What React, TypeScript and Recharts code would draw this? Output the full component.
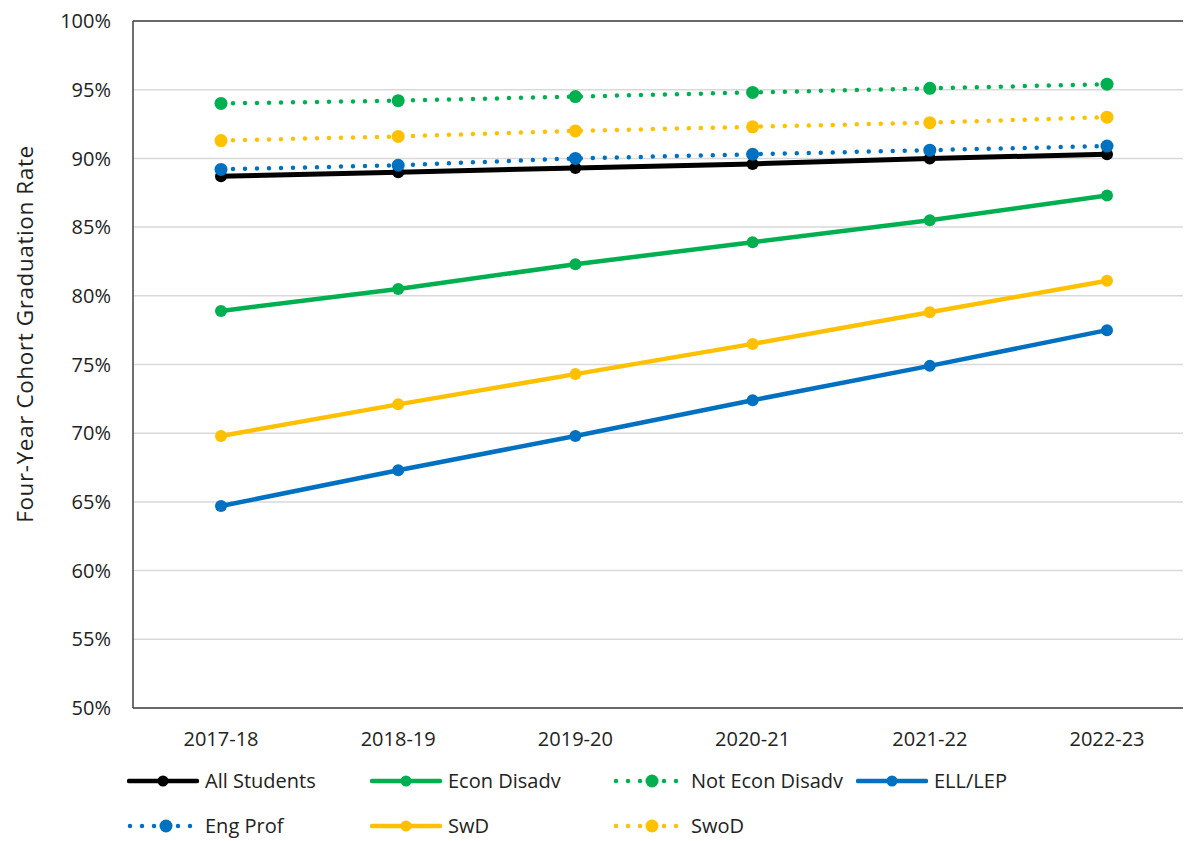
import { LineChart, Line, XAxis, YAxis, CartesianGrid, ReferenceLine } from "recharts"

const years = ["2017-18", "2018-19", "2019-20", "2020-21", "2021-22", "2022-23"]
const allStudents = [88.7, 89.0, 89.3, 89.6, 90.0, 90.3]
const econDisadv = [78.9, 80.5, 82.3, 83.9, 85.5, 87.3]
const notEconDisadv = [94.0, 94.2, 94.5, 94.8, 95.1, 95.4]
const ellLep = [64.7, 67.3, 69.8, 72.4, 74.9, 77.5]
const engProf = [89.2, 89.5, 90.0, 90.3, 90.6, 90.9]
const swd = [69.8, 72.1, 74.3, 76.5, 78.8, 81.1]
const swod = [91.3, 91.6, 92.0, 92.3, 92.6, 93.0]
const yTicks = [50, 55, 60, 65, 70, 75, 80, 85, 90, 95, 100]

const series = [
  { key: "all", name: "All Students", values: allStudents, color: "#000000", dotted: false },
  { key: "econ", name: "Econ Disadv", values: econDisadv, color: "#00B050", dotted: false },
  { key: "notEcon", name: "Not Econ Disadv", values: notEconDisadv, color: "#00B050", dotted: true },
  { key: "ell", name: "ELL/LEP", values: ellLep, color: "#0070C0", dotted: false },
  { key: "eng", name: "Eng Prof", values: engProf, color: "#0070C0", dotted: true },
  { key: "swd", name: "SwD", values: swd, color: "#FFC000", dotted: false },
  { key: "swod", name: "SwoD", values: swod, color: "#FFC000", dotted: true },
]

const data = years.map((year, i) => {
  const row: Record<string, string | number> = { year }
  series.forEach((s) => (row[s.key] = s.values[i]))
  return row
})

const font = "'Open Sans', sans-serif"
const textColor = "#222222"

function LegendIcon({ color, dotted }: { color: string; dotted: boolean }) {
  return (
    <svg width={72} height={16} style={{ display: "block", flexShrink: 0 }}>
      {dotted ? (
        <line x1={3} y1={8} x2={69} y2={8} stroke={color} strokeWidth={4.5} strokeLinecap="round" strokeDasharray="0 12" />
      ) : (
        <line x1={2} y1={8} x2={70} y2={8} stroke={color} strokeWidth={4.5} strokeLinecap="round" />
      )}
      <circle cx={dotted ? 39 : 36} cy={8} r={dotted ? 6.5 : 5.5} fill={color} />
    </svg>
  )
}

export default function App() {
  const rows = [series.slice(0, 4), series.slice(4)]
  return (
    <div style={{ width: 1200, fontFamily: font }}>
      <LineChart width={1200} height={750} data={data} margin={{ top: 13, right: 13, bottom: 0, left: 65 }}>
        <CartesianGrid horizontal vertical={false} stroke="#d9d9d9" strokeWidth={1.5} />
        <XAxis
          dataKey="year"
          height={50}
          padding={{ left: 88, right: 88 }}
          axisLine={{ stroke: "#404040", strokeWidth: 1.5 }}
          tickLine={false}
          tickMargin={18}
          tick={{ fill: textColor, fontSize: 20, fontFamily: font }}
        />
        <YAxis
          width={60}
          domain={[50, 100]}
          ticks={yTicks}
          interval={0}
          tickFormatter={(v: number) => `${v}%`}
          axisLine={{ stroke: "#404040", strokeWidth: 1.5 }}
          tickLine={false}
          tickMargin={16}
          tick={{ fill: textColor, fontSize: 20, fontFamily: font }}
          label={{
            content: () => (
              <text
                x={0}
                y={0}
                transform="translate(16 326) rotate(-90)"
                textAnchor="middle"
                dominantBaseline="central"
                fill={textColor}
                fontSize={22.5}
                letterSpacing={0.6}
                fontFamily={font}
              >
                Four-Year Cohort Graduation Rate
              </text>
            ),
          }}
        />
        <ReferenceLine y={100} stroke="#404040" strokeWidth={1.5} />
        {series.map((s) => (
          <Line
            key={s.key}
            dataKey={s.key}
            name={s.name}
            type="linear"
            stroke={s.color}
            strokeWidth={s.key === "all" ? 5 : 4.5}
            strokeDasharray={s.dotted ? "0 12" : undefined}
            strokeLinecap="round"
            dot={{ r: s.dotted ? 6.5 : 6, fill: s.color, stroke: "none", strokeDasharray: "none" }}
            activeDot={false}
            isAnimationActive={false}
          />
        ))}
      </LineChart>
      <div style={{ paddingLeft: 119 }}>
        {rows.map((row, ri) => (
          <div key={ri} style={{ display: "flex", height: 45, alignItems: "center" }}>
            {row.map((s) => (
              <div key={s.key} style={{ display: "flex", alignItems: "center", width: 243 }}>
                <LegendIcon color={s.color} dotted={s.dotted} />
                <span style={{ marginLeft: 6, fontSize: 20, color: textColor, whiteSpace: "nowrap" }}>{s.name}</span>
              </div>
            ))}
          </div>
        ))}
      </div>
    </div>
  )
}
